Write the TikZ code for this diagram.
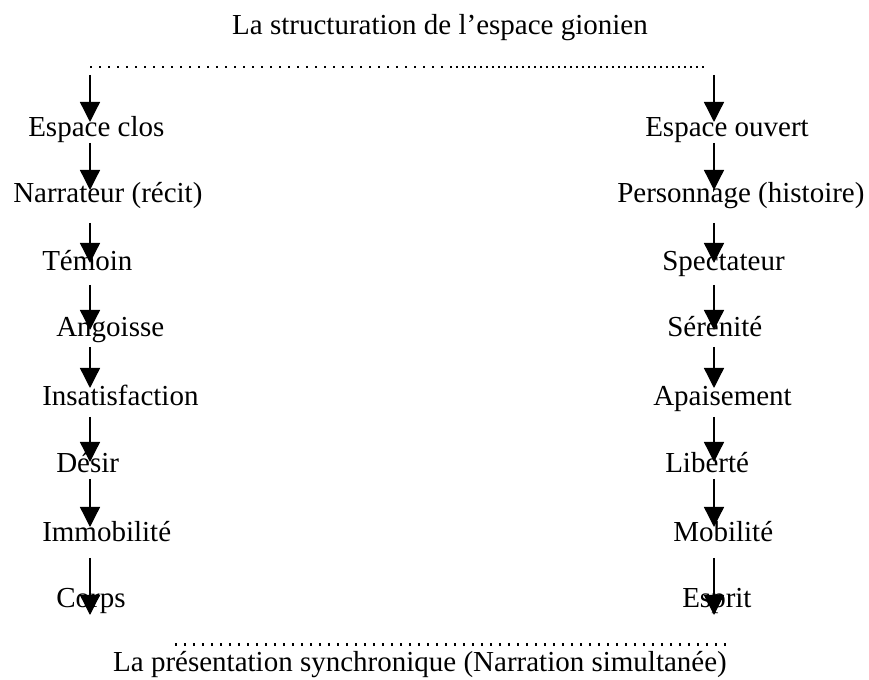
\documentclass[tikz,border=0pt]{standalone}
\usepackage{fontspec}
\setmainfont{Liberation Serif}
\usepackage{tikz}
\usetikzlibrary{arrows.meta, calc}

\tikzset{
    flow/.style={line width=1pt, -{Triangle[length=15pt,width=15pt]}},
    lbl/.style={anchor=base west, inner sep=0pt, font=\fontsize{21.75}{26}\selectfont},
    ttl/.style={anchor=base, inner sep=0pt, font=\fontsize{21.75}{26}\selectfont},
    dotsA/.style={line width=1.8pt, dash pattern=on 1.8pt off 4.95pt},
    dotsB/.style={line width=1.8pt, dash pattern=on 1.8pt off 2.7pt}
}

\begin{document}
\begin{tikzpicture}[x=0.75pt,y=0.75pt,yscale=-1,xscale=1]

        \useasboundingbox (0,0) rectangle (869,680);

        \draw (440,35) node [ttl] (titre) {La structuration de l’espace gionien};
        \draw (420,672) node [ttl] (synchro) {La présentation synchronique (Narration simultanée)};

        \coordinate (L) at (90,67);
        \coordinate (M) at (450,67);
        \coordinate (R) at (714,67);
        \draw [dotsA] (L) -- (M) ;
        \draw [dotsB] (M) -- ($(R)+(-7,0)$) ;
        \draw [dotsA] ($(synchro.north west)+(62,-7)$) -- ($(synchro.north east)+(3,-7)$) ;

        % espace clos
        \draw (28,137) node [lbl] (clos) {Espace clos};
        \draw (13,203) node [lbl] (narr) {Narrateur (récit)};
        \draw (42,271) node [lbl] (temoin) {Témoin};
        \draw (56,337) node [lbl] (angoisse) {Angoisse};
        \draw (42,406) node [lbl] (insat) {Insatisfaction};
        \draw (56,473) node [lbl] (desir) {Désir};
        \draw (42,542) node [lbl] (immob) {Immobilité};
        \draw (56,608) node [lbl] (corps) {Corps};

        % espace ouvert
        \draw (645,137) node [lbl] (ouvert) {Espace ouvert};
        \draw (617,203) node [lbl] (perso) {Personnage (histoire)};
        \draw (662,271) node [lbl] (spect) {Spectateur};
        \draw (667,337) node [lbl] (seren) {Sérénité};
        \draw (653,406) node [lbl] (apais) {Apaisement};
        \draw (665,473) node [lbl] (liberte) {Liberté};
        \draw (673,542) node [lbl] (mobil) {Mobilité};
        \draw (682,608) node [lbl] (esprit) {Esprit};

        \draw [flow] ($(L)+(0,8)$) -- ($(clos.base -| L)+(0,-15)$) ;
        \draw [flow] ($(clos.base -| L)+(0,6)$) -- ($(narr.base -| L)+(0,-13)$) ;
        \draw [flow] ($(narr.base -| L)+(0,20)$) -- ($(temoin.base -| L)+(0,-8)$) ;
        \draw [flow] ($(temoin.base -| L)+(0,14)$) -- ($(angoisse.base -| L)+(0,-7)$) ;
        \draw [flow] ($(angoisse.base -| L)+(0,10)$) -- ($(insat.base -| L)+(0,-18)$) ;
        \draw [flow] ($(insat.base -| L)+(0,11)$) -- ($(desir.base -| L)+(0,-11)$) ;
        \draw [flow] ($(desir.base -| L)+(0,6)$) -- ($(immob.base -| L)+(0,-15)$) ;
        \draw [flow] ($(immob.base -| L)+(0,16)$) -- ($(corps.base -| L)+(0,7)$) ;

        \draw [flow] ($(R)+(0,8)$) -- ($(ouvert.base -| R)+(0,-15)$) ;
        \draw [flow] ($(ouvert.base -| R)+(0,6)$) -- ($(perso.base -| R)+(0,-13)$) ;
        \draw [flow] ($(perso.base -| R)+(0,20)$) -- ($(spect.base -| R)+(0,-8)$) ;
        \draw [flow] ($(spect.base -| R)+(0,14)$) -- ($(seren.base -| R)+(0,-7)$) ;
        \draw [flow] ($(seren.base -| R)+(0,10)$) -- ($(apais.base -| R)+(0,-18)$) ;
        \draw [flow] ($(apais.base -| R)+(0,11)$) -- ($(liberte.base -| R)+(0,-11)$) ;
        \draw [flow] ($(liberte.base -| R)+(0,6)$) -- ($(mobil.base -| R)+(0,-15)$) ;
        \draw [flow] ($(mobil.base -| R)+(0,16)$) -- ($(esprit.base -| R)+(0,7)$) ;

    \end{tikzpicture}
\end{document}
